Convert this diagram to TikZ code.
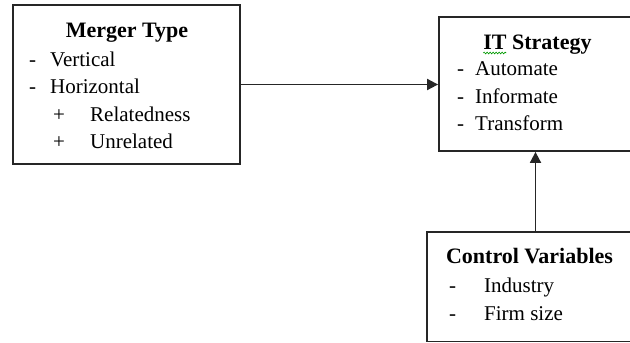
\documentclass[tikz,border=0pt]{standalone}
\usepackage{fontspec}
\setmainfont{Liberation Serif}
\usetikzlibrary{arrows.meta,decorations.pathmorphing}
\newcommand{\itemlead}[2]{\makebox[#1][l]{#2}}

\begin{document}
\begin{tikzpicture}[x=1pt,y=-1pt,>={Triangle[length=11pt,width=11pt]}]
  \tikzstyle{box}=[draw=black!85,line width=1.8pt,inner sep=0pt]
  \tikzstyle{head}=[anchor=base,inner sep=0pt,
    font=\fontsize{22}{27}\selectfont\bfseries]
  \tikzstyle{item}=[anchor=base west,inner sep=0pt,
    font=\fontsize{21}{27}\selectfont]
  \useasboundingbox (0,0) rectangle (630,343);
  % boxes
  \node[box,minimum width=227pt,minimum height=159pt] (merger) at (126.5,84.5) {};
  \node[box,minimum width=193pt,minimum height=134pt] (itstrat) at (535.5,84) {};
  \node[box,minimum width=205pt,minimum height=109.5pt] (control) at (529.5,286.75) {};
  % merger type
  \node[head] (mtitle) at (127,37.5) {Merger Type};
  \node[item] (m1) at (29,66) {\itemlead{21pt}{-}Vertical};
  \node[item] (m2) at (29,93.5) {\itemlead{21pt}{-}Horizontal};
  \node[item] (m3) at (53,121) {\itemlead{37pt}{+}Relatedness};
  \node[item] (m4) at (53,148.5) {\itemlead{37pt}{+}Unrelated};
  % it strategy
  \node[head] (ititle) at (537.5,49) {IT Strategy};
  \node[item] (it1) at (457,75.5) {\itemlead{18pt}{-}Automate};
  \node[item] (it2) at (457,103) {\itemlead{18pt}{-}Informate};
  \node[item] (it3) at (457,130.5) {\itemlead{18pt}{-}Transform};
  \draw[green!60!black,line width=0.6pt,decorate,
    decoration={snake,segment length=3pt,amplitude=0.9pt}]
    ([yshift=-4pt]ititle.base west) -- ([xshift=23pt,yshift=-4pt]ititle.base west);
  % control variables
  \node[head] (ctitle) at (529.5,263) {Control Variables};
  \node[item] (c1) at (449,292) {\itemlead{35pt}{-}Industry};
  \node[item] (c2) at (449,320) {\itemlead{35pt}{-}Firm size};
  % arrows
  \draw[->,line width=1.8pt,black!85] (merger.east) -- (merger.east -| itstrat.west);
  \draw[->,line width=1.8pt,black!85] (control.north -| itstrat.south) -- (itstrat.south);
\end{tikzpicture}
\end{document}
